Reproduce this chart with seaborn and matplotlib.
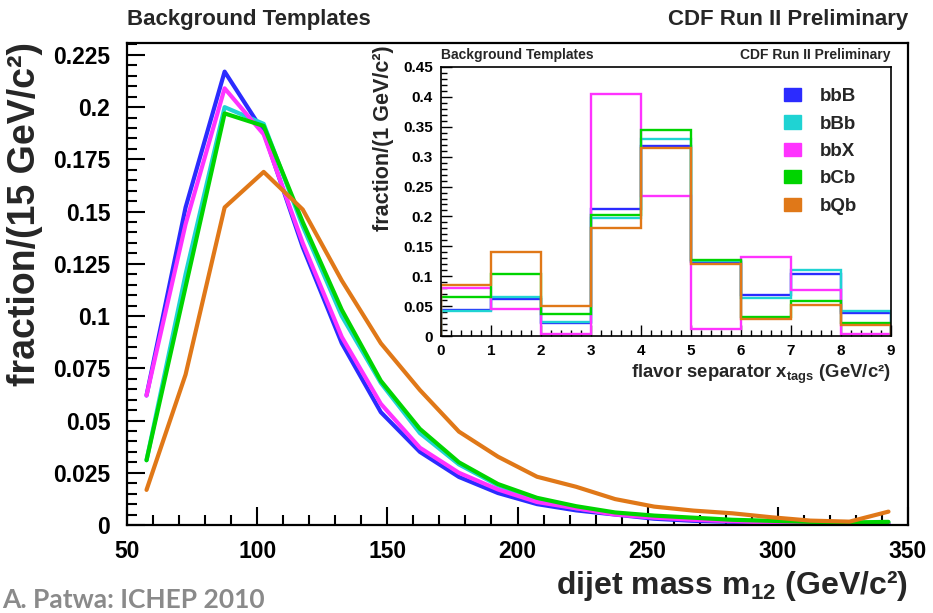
import numpy as np
import pandas as pd
import matplotlib
matplotlib.use("Agg")
import matplotlib.pyplot as plt
from matplotlib.patches import Patch
from matplotlib.ticker import MultipleLocator, FuncFormatter
import seaborn as sns

# ---- dijet mass templates (15 GeV/c^2 bins) ----
mass_centers = [57.5, 72.5, 87.5, 102.5, 117.5, 132.5, 147.5, 162.5, 177.5, 192.5,
                207.5, 222.5, 237.5, 252.5, 267.5, 282.5, 297.5, 312.5, 327.5, 342.5]
mass_bbB = [0.062, 0.152, 0.217, 0.188, 0.133, 0.087, 0.054, 0.035, 0.023, 0.0153,
            0.010, 0.007, 0.005, 0.003, 0.002, 0.0015, 0.001, 0.0008, 0.0005, 0.0005]
mass_bBb = [0.031, 0.120, 0.200, 0.192, 0.143, 0.100, 0.068, 0.044, 0.029, 0.019,
            0.012, 0.008, 0.0055, 0.004, 0.003, 0.002, 0.0017, 0.0012, 0.001, 0.001]
mass_bbX = [0.062, 0.144, 0.209, 0.187, 0.135, 0.090, 0.058, 0.037, 0.025, 0.017,
            0.011, 0.008, 0.005, 0.0035, 0.0025, 0.0018, 0.0012, 0.001, 0.0008, 0.0006]
mass_bCb = [0.031, 0.114, 0.197, 0.191, 0.145, 0.103, 0.069, 0.046, 0.030, 0.0196,
            0.013, 0.009, 0.006, 0.0045, 0.0035, 0.0025, 0.002, 0.0015, 0.0012, 0.0015]
mass_bQb = [0.0168, 0.072, 0.152, 0.169, 0.151, 0.117, 0.087, 0.0646, 0.0447, 0.0327,
            0.0231, 0.0183, 0.0124, 0.0088, 0.0069, 0.0056, 0.0037, 0.0021, 0.0016, 0.0064]

# ---- flavor separator templates (1 GeV/c^2 bins) ----
tag_edges = [0, 1, 2, 3, 4, 5, 6, 7, 8, 9]
tag_bbB = [0.043, 0.0625, 0.022, 0.213, 0.318, 0.124, 0.069, 0.103, 0.039]
tag_bBb = [0.041, 0.065, 0.023, 0.197, 0.330, 0.126, 0.0636, 0.110, 0.0418]
tag_bbX = [0.080, 0.0457, 0.003, 0.405, 0.235, 0.0117, 0.1316, 0.0764, 0.003]
tag_bCb = [0.0647, 0.1043, 0.036, 0.2025, 0.344, 0.1277, 0.0318, 0.058, 0.0217]
tag_bQb = [0.0848, 0.1405, 0.050, 0.1807, 0.315, 0.121, 0.0279, 0.0513, 0.019]

samples = ["bbB", "bBb", "bbX", "bCb", "bQb"]
colors = {"bbB": "#2b2bff", "bBb": "#1fd3d3", "bbX": "#ff33ff",
          "bCb": "#00d400", "bQb": "#e07818"}

sns.set_style("ticks")
plt.rcParams["font.family"] = ["Liberation Sans", "DejaVu Sans"]
plt.rcParams["font.weight"] = "bold"
plt.rcParams["mathtext.fontset"] = "custom"
plt.rcParams["mathtext.rm"] = "Liberation Sans:bold"
plt.rcParams["mathtext.it"] = "Liberation Sans:bold"
plt.rcParams["mathtext.bf"] = "Liberation Sans:bold"
plt.rcParams["mathtext.default"] = "rm"

W, H = 933, 613
fig = plt.figure(figsize=(W / 100, H / 100), dpi=100)


def fx(px):
    return px / W


def fy(py):
    return 1 - py / H


def num_fmt(v, _):
    return f"{v:.3f}".rstrip("0").rstrip(".")


# ---- main panel ----
ax = fig.add_axes([fx(127), fy(525), fx(908) - fx(127), fy(43) - fy(525)])
mass_df = pd.DataFrame({
    "mass": mass_centers * 5,
    "fraction": mass_bbB + mass_bBb + mass_bbX + mass_bCb + mass_bQb,
    "sample": [s for s in samples for _ in mass_centers],
})
sns.lineplot(data=mass_df, x="mass", y="fraction", hue="sample",
             hue_order=samples, palette=colors, linewidth=3.0,
             legend=False, ax=ax, sort=False)
ax.set_xlim(50, 350)
ax.set_ylim(0, 0.2307)
ax.set_xlabel("")
ax.set_ylabel("")
ax.xaxis.set_major_locator(MultipleLocator(50))
ax.xaxis.set_minor_locator(MultipleLocator(10))
ax.yaxis.set_major_locator(MultipleLocator(0.025))
ax.yaxis.set_minor_locator(MultipleLocator(0.005))
ax.yaxis.set_major_formatter(FuncFormatter(num_fmt))
ax.tick_params(which="both", direction="in", width=1.5, colors="black",
               labelsize=16.5, top=False, right=False)
ax.tick_params(which="major", length=13)
ax.tick_params(which="minor", length=7)
ax.tick_params(axis="y", which="major", pad=12)
ax.tick_params(axis="x", which="major", pad=11)
for sp in ax.spines.values():
    sp.set_visible(True)
    sp.set_linewidth(1.6)
    sp.set_color("black")
for lab in ax.get_xticklabels() + ax.get_yticklabels():
    lab.set_fontweight("bold")

fig.text(fx(127), fy(20), "Background Templates", fontsize=16,
         fontweight="bold", ha="left", va="center")
fig.text(fx(908), fy(20), "CDF Run II Preliminary", fontsize=16,
         fontweight="bold", ha="right", va="center")
fig.text(fx(25), fy(42), "fraction/(15 GeV/c²)", fontsize=27,
         fontweight="bold", rotation=90, ha="center", va="top")
fig.text(fx(908), fy(594), r"dijet mass m$_{12}$ (GeV/c²)", fontsize=23,
         fontweight="bold", ha="right", va="baseline")
fig.text(fx(2), fy(608), "A. Patwa: ICHEP 2010", fontsize=19,
         fontweight="bold", color="#8a8a8a", ha="left", va="baseline",
         family=["Lato", "DejaVu Sans"])

# ---- inset panel ----
ins = fig.add_axes([fx(441), fy(336), fx(891) - fx(441), fy(67) - fy(336)])
ins.set_facecolor("white")
tag_values = {"bbB": tag_bbB, "bBb": tag_bBb, "bbX": tag_bbX,
              "bCb": tag_bCb, "bQb": tag_bQb}
for s in samples:
    ins.stairs(tag_values[s], tag_edges, baseline=0, color=colors[s],
               linewidth=1.7)
ins.set_xlim(0, 9)
ins.set_ylim(0, 0.45)
ins.xaxis.set_major_locator(MultipleLocator(1))
ins.xaxis.set_minor_locator(MultipleLocator(0.2))
ins.yaxis.set_major_locator(MultipleLocator(0.05))
ins.yaxis.set_minor_locator(MultipleLocator(0.01))
ins.yaxis.set_major_formatter(FuncFormatter(num_fmt))
ins.tick_params(which="both", direction="in", width=1.0, colors="black",
                labelsize=11, top=False, right=False)
ins.tick_params(which="major", length=8)
ins.tick_params(which="minor", length=4)
ins.tick_params(axis="both", which="major", pad=6)
for sp in ins.spines.values():
    sp.set_linewidth(1.2)
    sp.set_color("black")
for lab in ins.get_xticklabels() + ins.get_yticklabels():
    lab.set_fontweight("bold")

fig.text(fx(441), fy(55), "Background Templates", fontsize=10,
         fontweight="bold", ha="left", va="center")
fig.text(fx(891), fy(55), "CDF Run II Preliminary", fontsize=10,
         fontweight="bold", ha="right", va="center")
fig.text(fx(383), fy(45), "fraction/(1 GeV/c²)", fontsize=15.5,
         fontweight="bold", rotation=90, ha="center", va="top")
fig.text(fx(891), fy(378), r"flavor separator x$_{tags}$ (GeV/c²)",
         fontsize=13.3, fontweight="bold", ha="right", va="baseline")

handles = [Patch(facecolor=colors[s], edgecolor=colors[s]) for s in samples]
leg = ins.legend(handles, samples, loc="upper left",
                 bbox_to_anchor=((784 - 441) / 450, (336 - 88) / 269),
                 frameon=False, fontsize=13.5, handlelength=0.9,
                 handleheight=0.7, labelspacing=0.55, handletextpad=1.0,
                 borderpad=0, borderaxespad=0)
for t in leg.get_texts():
    t.set_fontweight("bold")

fig.savefig("out.png", dpi=100)
